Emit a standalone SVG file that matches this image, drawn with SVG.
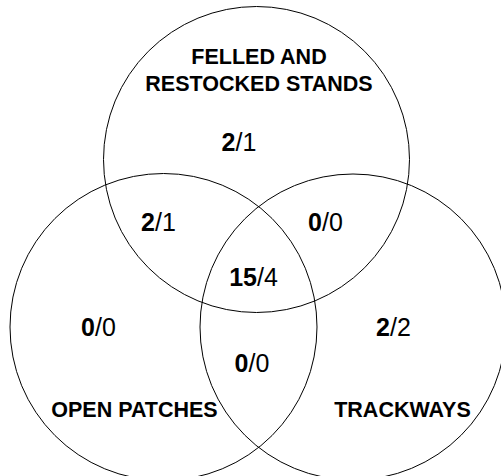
<svg xmlns="http://www.w3.org/2000/svg" width="501" height="476" viewBox="0 0 501 476">
<style>
.c{fill:none;stroke:#000;stroke-width:1}
.l{font-family:"Liberation Sans",Arial,sans-serif;font-weight:bold;font-size:21.5px;fill:#000;text-anchor:middle}
.n{font-family:"Liberation Sans",Arial,sans-serif;font-size:25px;fill:#000;text-anchor:middle}
.b{font-weight:bold}
</style>
<rect width="501" height="476" fill="#fff"/>
<g id="felled">
<circle class="c" cx="256.5" cy="159.5" r="153"/>
<text class="l" x="259" y="64">FELLED AND</text>
<text class="l" x="259" y="91">RESTOCKED STANDS</text>
</g>
<g id="open">
<circle class="c" cx="163.5" cy="327" r="153.5"/>
<text class="l" x="134.5" y="417">OPEN PATCHES</text>
</g>
<g id="track">
<circle class="c" cx="353" cy="327" r="153"/>
<text class="l" x="402.5" y="417">TRACKWAYS</text>
</g>
<g id="counts">
<text class="n" x="239" y="151"><tspan class="b">2</tspan>/1</text>
<text class="n" x="158.5" y="231"><tspan class="b">2</tspan>/1</text>
<text class="n" x="325.5" y="231"><tspan class="b">0</tspan>/0</text>
<text class="n" x="253.5" y="286"><tspan class="b">15</tspan>/4</text>
<text class="n" x="98.5" y="336"><tspan class="b">0</tspan>/0</text>
<text class="n" x="393.5" y="336"><tspan class="b">2</tspan>/2</text>
<text class="n" x="252" y="372"><tspan class="b">0</tspan>/0</text>
</g>
</svg>
